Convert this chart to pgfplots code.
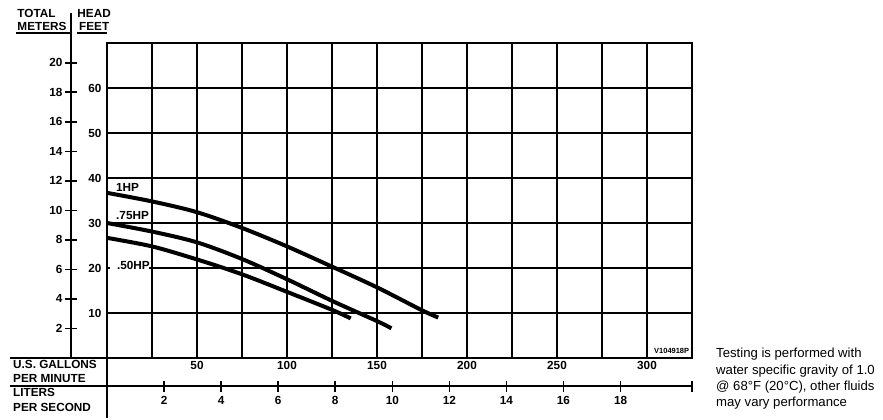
\documentclass[border=0pt]{standalone}
\usepackage{fontspec}
\setmainfont{Liberation Sans}
\usepackage{pgfplots}
\pgfplotsset{compat=1.18}
\newcommand\lab{\bfseries\fontsize{11.8}{13}\selectfont}
\begin{document}
\begin{tikzpicture}[x=1bp,y=1bp]
\path[use as bounding box] (0,0) rectangle (883,419);

% main chart: feet vs gallons per minute
\begin{axis}[
  at={(107bp,61bp)}, anchor=south west,
  width=585bp, height=315bp, scale only axis,
  xmin=0, xmax=325, ymin=0, ymax=70,
  xtick={50,100,...,300}, minor xtick={25,75,...,325},
  ytick={10,20,...,60},
  grid=both,
  major grid style={black, line width=1.6bp},
  minor grid style={black, line width=1.6bp},
  major tick length=0pt, minor tick length=0pt,
  axis line style={black, line width=1.7bp},
  ticklabel style={font=\lab},
  yticklabel style={xshift=-2bp},
  /pgf/number format/assume math mode=true,
  clip=false,
]
\draw[white, line width=3bp] (axis cs:1.5,20) -- (axis cs:23.5,20);
\addplot[black, line width=4bp, smooth] coordinates {
  (0,36.7) (25,34.8) (50,32.4) (75,28.9) (100,24.8) (125,20.3) (150,15.7) (175,10.6) (184,9.0)};
\addplot[black, line width=4bp, smooth] coordinates {
  (0,30.0) (25,28.1) (50,25.7) (75,22.0) (100,17.5) (125,12.7) (150,8.2) (158,6.6)};
\addplot[black, line width=4bp, smooth] coordinates {
  (0,26.7) (25,24.8) (50,21.9) (75,18.6) (100,14.7) (125,10.7) (135.4,8.8)};
\node[anchor=base west, font=\lab, inner sep=0] at (axis cs:5,37.1) {1HP};
\node[anchor=base west, font=\lab, inner sep=0] at (axis cs:5,30.7) {.75HP};
\node[anchor=base west, font=\lab, inner sep=0] at (axis cs:5.5,19.6) {.50HP};
\node[anchor=base east, font=\bfseries\fontsize{7.5}{8}\selectfont, inner sep=0] at (axis cs:323.5,0.9) {V104918P};
\end{axis}

% total meters scale
\begin{axis}[
  at={(71bp,61bp)}, anchor=south west,
  width=20bp, height=344.7bp, scale only axis,
  xmin=0, xmax=1, ymin=0, ymax=23.35,
  axis x line=none, axis y line=left,
  axis line style={-, black, line width=1.8bp},
  ytick={2,4,...,20},
  tick align=center, major tick length=12bp,
  tick style={black, line width=1.6bp},
  ticklabel style={font=\lab},
  yticklabel style={xshift=1bp},
  /pgf/number format/assume math mode=true,
]
\end{axis}

% liters per second scale
\begin{axis}[
  at={(107bp,33bp)}, anchor=south west,
  width=585bp, height=10bp, scale only axis,
  xmin=0, xmax=20.505, ymin=0, ymax=1,
  axis y line=none, axis x line=bottom,
  axis line style={-, black, line width=1.7bp},
  xtick={2,4,...,18}, extra x ticks={20.505}, extra x tick labels={},
  tick align=center, major tick length=11bp,
  tick style={black, line width=1.6bp},
  ticklabel style={font=\lab},
  xticklabel style={yshift=-1bp},
  /pgf/number format/assume math mode=true,
]
\end{axis}

% frame lines of the label rows and header
\draw[line width=1.7bp] (10,61) -- (107,61);
\draw[line width=1.7bp] (10,33) -- (107,33);
\draw[line width=1.7bp] (107,61) -- (107,1);
\draw[line width=1.6bp] (16,385.7) -- (70,385.7);
\draw[line width=1.6bp] (77,385.7) -- (107,385.7);

\begin{scope}[every node/.style={anchor=base west, font=\lab, inner sep=0}]
\node at (17.3,401.7) {TOTAL};
\node at (17.3,388.3) {METERS};
\node at (77.3,401.7) {HEAD};
\node at (79,388.3) {FEET};
\node at (13,51) {U.S. GALLONS};
\node at (13,37) {PER MINUTE};
\node at (13,23) {LITERS};
\node at (13,8) {PER SECOND};
\end{scope}

\begin{scope}[every node/.style={anchor=base west, font=\fontsize{13.2}{15}\selectfont, inner sep=0}]
\node at (716,61.3) {Testing is performed with};
\node at (716,45) {water specific gravity of 1.0};
\node at (716,28.7) {@ 68°F (20°C), other fluids};
\node at (716,13) {may vary performance};
\end{scope}
\end{tikzpicture}
\end{document}
